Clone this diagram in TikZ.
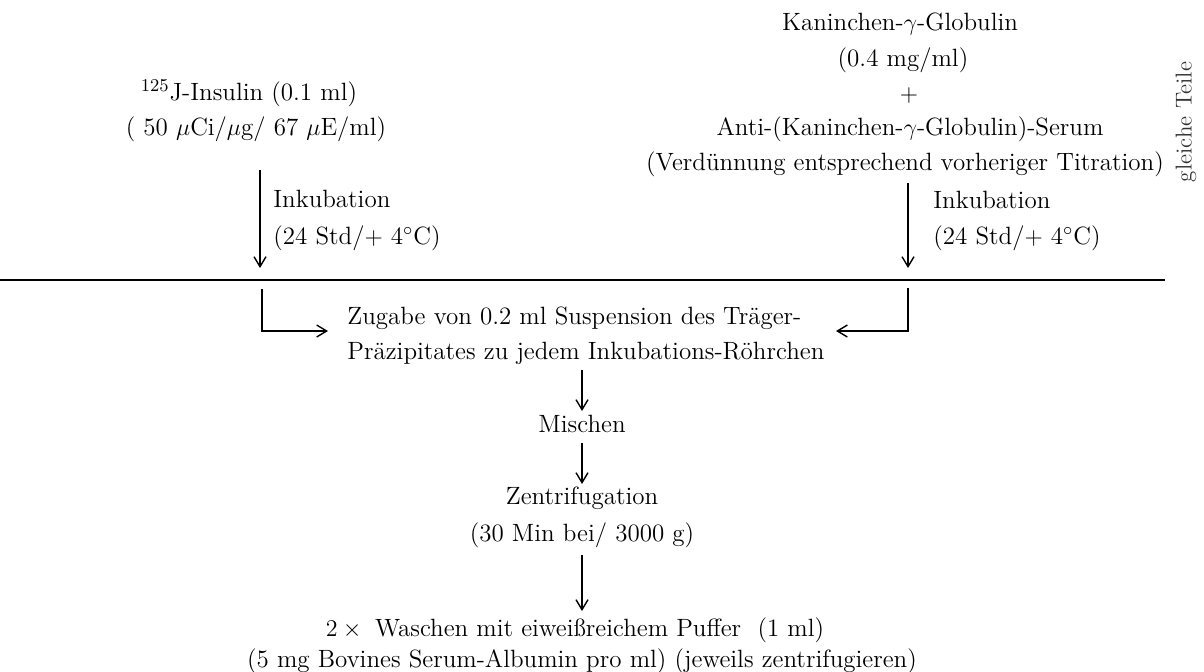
\documentclass[tikz,border=0pt]{standalone}
\usepackage{fontspec}
\usetikzlibrary{arrows.meta}
\begin{document}
\begin{tikzpicture}[x=0.5pt,y=-0.5pt,
  txt/.style={inner sep=0pt,font=\fontsize{12.5}{15}\selectfont},
  arr/.style={line width=0.7pt,-{Straight Barb[length=5pt,width=6pt,line width=0.7pt]}},
  rule/.style={line width=1pt}]
\useasboundingbox (0,0) rectangle (1204,671);
% left input
\node[txt] (ins1) at (249,93) {$^{125}$J-Insulin (0.1 ml)};
\node[txt] (ins2) at (256,129) {( 50 $\mu$Ci/$\mu$g/ 67 $\mu$E/ml)};
\coordinate (la1) at (260,170);
\coordinate (la2) at (260,268);
\draw[arr] (la1) -- (la2);
\node[txt,anchor=west] (linc) at (273,199) {Inkubation};
\node[txt,anchor=west] (lcond) at (273,238) {(24 Std/$+$ 4$^\circ$C)};
% right input
\node[txt] (k1) at (900,24) {Kaninchen-$\gamma$-Globulin};
\node[txt] (k2) at (903,60) {(0.4 mg/ml)};
\node[txt] (plus) at (909,95) {$+$};
\node[txt] (k3) at (910,129) {Anti-(Kaninchen-$\gamma$-Globulin)-Serum};
\node[txt] (k4) at (905,164) {(Verdünnung entsprechend vorheriger Titration)};
\node[txt,rotate=90,font=\fontsize{11.5}{13}\selectfont,text=black!80] (gt) at (1186,122) {gleiche Teile};
\coordinate (ra1) at (908,183);
\coordinate (ra2) at (908,268);
\draw[arr] (ra1) -- (ra2);
\node[txt,anchor=west] (rinc) at (933,200) {Inkubation};
\node[txt,anchor=west] (rcond) at (933,238) {(24 Std/$+$ 4$^\circ$C)};
% separating rule
\coordinate (h1) at (0,280);
\coordinate (h2) at (1165,280);
\draw[rule] (h1) -- (h2);
% addition
\node[txt,anchor=west] (z1) at (347,318) {Zugabe von 0.2 ml Suspension des Träger-};
\node[txt,anchor=west] (z2) at (347,353) {Präzipitates zu jedem Inkubations-Röhrchen};
\coordinate (lt) at (262,289);
\coordinate (le) at (328,331);
\draw[arr] (lt) |- (le);
\coordinate (rt) at (908,288);
\coordinate (re) at (836,331);
\draw[arr] (rt) |- (re);
% chain
\node[txt] (mi) at (582,424) {Mischen};
\node[txt] (ze) at (582,498) {Zentrifugation};
\node[txt] (zc) at (582,535) {(30 Min bei/ 3000 g)};
\node[txt] (w1) at (575,630) {$2\times{}$ Waschen mit eiweißreichem Puffer \ (1 ml)};
\node[txt] (w2) at (582,661) {(5 mg Bovines Serum-Albumin pro ml) (jeweils zentrifugieren)};
\coordinate (c1) at (582,370);
\coordinate (c1e) at (582,411);
\coordinate (c2) at (582,443);
\coordinate (c2e) at (582,484);
\coordinate (c3) at (582,555);
\coordinate (c3e) at (582,611);
\draw[arr] (c1) -- (c1e);
\draw[arr] (c2) -- (c2e);
\draw[arr] (c3) -- (c3e);
\end{tikzpicture}
\end{document}
